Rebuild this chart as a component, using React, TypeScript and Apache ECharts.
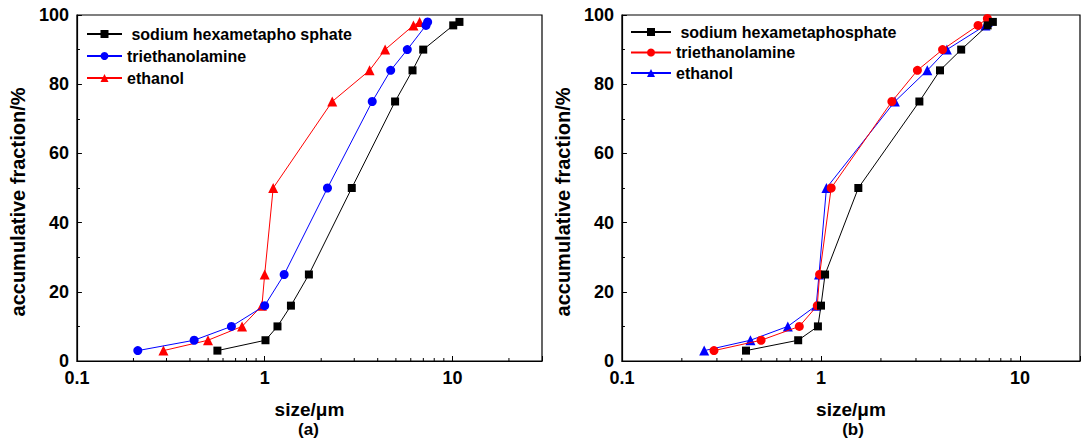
import React, { useEffect, useRef } from "react";
import * as echarts from "echarts";

// ---------- data ----------
const fractions = [3, 6, 10, 16, 25, 50, 75, 84, 90, 97, 98];
const fractionsBTea = [3, 6, 10, 16, 25, 50, 75, 84, 90, 97, 99];

const sizesAShmp = [0.56, 1.01, 1.17, 1.38, 1.72, 2.91, 4.95, 6.13, 6.99, 10.1, 10.9];
const sizesATea = [0.211, 0.421, 0.665, 1.0, 1.27, 2.16, 3.74, 4.69, 5.75, 7.23, 7.38];
const sizesAEth = [0.289, 0.499, 0.758, 0.967, 1.0, 1.11, 2.29, 3.62, 4.38, 6.2, 6.69];

const sizesBShmp = [0.42, 0.768, 0.965, 1.0, 1.048, 1.54, 3.12, 3.96, 5.06, 6.87, 7.3];
const sizesBTea = [0.29, 0.5, 0.778, 0.958, 0.984, 1.125, 2.27, 3.05, 4.08, 6.15, 6.85];
const sizesBEth = [0.259, 0.442, 0.681, 0.946, 0.977, 1.065, 2.35, 3.42, 4.29, 6.7, 6.87];

const namesA = [" sodium hexametapho sphate", "triethanolamine", "ethanol"];
const namesB = [" sodium hexametaphosphate", "triethanolamine", "ethanol"];

const majorXTicks = [0.1, 1, 10];
const minorXTicksA = [0.2, 0.3, 0.4, 0.5, 0.6, 0.7, 0.8, 0.9, 2, 3, 4, 5, 6, 7, 8, 9, 20];
const minorXTicksB = [0.2, 0.3, 0.4, 0.5, 0.6, 0.7, 0.8, 0.9, 2, 3, 4, 5, 6, 7, 8, 9];

const FONT = "Arial, 'Liberation Sans', sans-serif";

function pair(xs: number[], ys: number[]) {
  return xs.map((x, i) => [x, ys[i]]);
}

function buildOption(cfg: {
  gridLeft: number;
  gridWidth: number;
  xMax: number;
  legendLeft: number;
  legendTop: number;
  legendGap: number;
  legendItemWidth: number;
  names: string[];
  colors: string[];
  symbols: string[];
  symbolSizes: number[];
  data: number[][][];
  minorTicks: number[];
  tag: string;
}) {
  const series: any[] = cfg.names.map((n, i) => ({
    name: n,
    type: "line",
    data: cfg.data[i],
    symbol: cfg.symbols[i],
    symbolSize: cfg.symbolSizes[i],
    itemStyle: { color: cfg.colors[i] },
    lineStyle: { color: cfg.colors[i], width: 1 },
    z: 3 + (cfg.names.length - i),
  }));
  series.push({
    type: "custom",
    silent: true,
    clip: false,
    z: 1,
    data: cfg.minorTicks.map((v) => [v, 0]),
    renderItem: (params: any, api: any) => {
      const p = api.coord([api.value(0), 0]);
      return {
        type: "line",
        shape: { x1: p[0], y1: p[1], x2: p[0], y2: p[1] - 3 },
        style: { stroke: "#000", lineWidth: 1 },
      };
    },
  });
  return {
    animation: false,
    backgroundColor: "#fff",
    textStyle: { fontFamily: FONT },
    grid: {
      left: cfg.gridLeft,
      top: 15,
      width: cfg.gridWidth,
      height: 346,
      show: true,
      borderColor: "#000",
      borderWidth: 1.2,
      backgroundColor: "transparent",
    },
    legend: {
      orient: "vertical",
      left: cfg.legendLeft,
      top: cfg.legendTop,
      padding: 0,
      itemGap: cfg.legendGap,
      itemWidth: cfg.legendItemWidth,
      itemHeight: 10,
      data: cfg.names,
      selectedMode: false,
      textStyle: { fontFamily: FONT, fontSize: 16, fontWeight: "bold", color: "#000" },
    },
    title: {
      text: cfg.tag,
      left: cfg.gridLeft + cfg.gridWidth / 2,
      textAlign: "center",
      top: 421,
      padding: 0,
      textStyle: { fontFamily: FONT, fontSize: 17, fontWeight: "bold", color: "#000" },
    },
    xAxis: {
      type: "log",
      logBase: 10,
      min: 0.1,
      max: cfg.xMax,
      name: "size/\u03bcm",
      nameLocation: "middle",
      nameGap: 39,
      nameTextStyle: { fontFamily: FONT, fontSize: 19, fontWeight: "bold", color: "#000" },
      axisLine: { lineStyle: { color: "#000", width: 1.2 } },
      axisTick: { inside: true, length: 5, lineStyle: { color: "#000" } },
      splitLine: { show: false },
      axisLabel: {
        margin: 8,
        fontFamily: FONT,
        fontSize: 18,
        fontWeight: "bold",
        color: "#000",
        formatter: (v: number) => {
          const t = majorXTicks.find((m) => Math.abs(v - m) / m < 1e-6);
          return t === undefined ? "" : String(t);
        },
      },
    },
    yAxis: {
      type: "value",
      min: 0,
      max: 100,
      interval: 20,
      name: "accumulative fraction/%",
      nameLocation: "middle",
      nameGap: 44,
      nameTextStyle: {
        fontFamily: FONT,
        fontSize: 20,
        fontWeight: "bold",
        color: "#000",
        padding: [0, 28, 0, 0],
      },
      axisLine: { show: true, lineStyle: { color: "#000", width: 1.2 } },
      axisTick: { inside: true, length: 5, lineStyle: { color: "#000" } },
      minorTick: { show: true, splitNumber: 2, length: 3, lineStyle: { color: "#000" } },
      splitLine: { show: false },
      axisLabel: {
        margin: 8,
        fontFamily: FONT,
        fontSize: 18,
        fontWeight: "bold",
        color: "#000",
      },
    },
    series,
  };
}

function Panel(props: { left: number; width: number; option: any }) {
  const ref = useRef<HTMLDivElement>(null);
  useEffect(() => {
    if (!ref.current) return;
    const chart = echarts.init(ref.current, undefined, { renderer: "svg" });
    chart.setOption(props.option);
    return () => chart.dispose();
  }, []);
  return (
    <div
      ref={ref}
      style={{ position: "absolute", left: props.left, top: 0, width: props.width, height: 448 }}
    />
  );
}

export default function App() {
  const optionA = buildOption({
    gridLeft: 75,
    gridWidth: 467,
    xMax: 30,
    legendLeft: 86,
    legendTop: 26,
    legendGap: 6,
    legendItemWidth: 35,
    names: namesA,
    colors: ["#000000", "#0000ff", "#ff0000"],
    symbols: ["rect", "circle", "triangle"],
    symbolSizes: [8, 9, 10],
    data: [pair(sizesAShmp, fractions), pair(sizesATea, fractions), pair(sizesAEth, fractions)],
    minorTicks: minorXTicksA,
    tag: "(a)",
  });
  const optionB = buildOption({
    gridLeft: 73,
    gridWidth: 470,
    xMax: 20,
    legendLeft: 85,
    legendTop: 24,
    legendGap: 4.5,
    legendItemWidth: 40,
    names: namesB,
    colors: ["#000000", "#ff0000", "#0000ff"],
    symbols: ["rect", "circle", "triangle"],
    symbolSizes: [8, 9, 10],
    data: [pair(sizesBShmp, fractions), pair(sizesBTea, fractionsBTea), pair(sizesBEth, fractions)],
    minorTicks: minorXTicksB,
    tag: "(b)",
  });
  return (
    <div style={{ position: "fixed", left: 0, top: 0, width: 1083, height: 448, background: "#fff", overflow: "hidden" }}>
      <Panel left={0} width={545} option={optionA} />
      <Panel left={545} width={538} option={optionB} />
    </div>
  );
}
